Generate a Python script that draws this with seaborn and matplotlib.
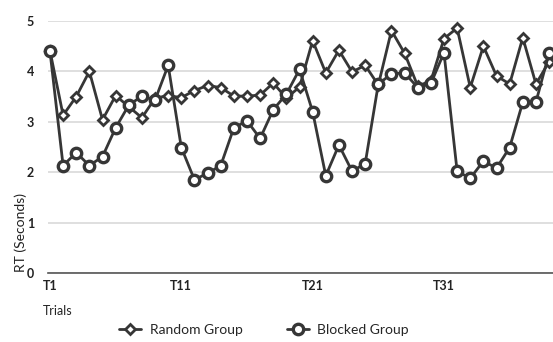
"""
Reaction time per trial, random vs blocked practice groups.
"""

import matplotlib
matplotlib.use("Agg")
import matplotlib.pyplot as plt
import pandas as pd
import seaborn as sns

trials = list(range(1, 40))
random_group = [4.41, 3.13, 3.50, 4.00, 3.04, 3.52, 3.30, 3.08, 3.47, 3.52,
                3.48, 3.62, 3.72, 3.68, 3.51, 3.51, 3.53, 3.77, 3.47, 3.69,
                4.61, 3.97, 4.42, 3.99, 4.12, 3.73, 4.81, 4.36, 3.71, 3.81,
                4.65, 4.86, 3.68, 4.50, 3.91, 3.75, 4.67, 3.75, 4.19]
blocked_group = [4.40, 2.13, 2.39, 2.13, 2.31, 2.88, 3.33, 3.51, 3.43, 4.12,
                 2.49, 1.85, 1.98, 2.13, 2.88, 3.02, 2.67, 3.24, 3.55, 4.04,
                 3.20, 1.93, 2.54, 2.02, 2.17, 3.75, 3.95, 3.97, 3.68, 3.76,
                 4.37, 2.02, 1.88, 2.22, 2.08, 2.49, 3.39, 3.39, 4.36]
tick_trials = [1, 11, 21, 31]
tick_labels = ["T1", "T11", "T21", "T31"]
y_ticks = [0, 1, 2, 3, 4, 5]

df = pd.DataFrame({
    "trial": trials * 2,
    "rt": random_group + blocked_group,
    "group": ["Random Group"] * len(trials) + ["Blocked Group"] * len(trials),
})

sns.set_style("white")
plt.rcParams["font.family"] = ["Lato", "DejaVu Sans"]

fig = plt.figure(figsize=(5.53, 3.42), dpi=100)
ax = fig.add_axes([48 / 553, 69 / 342, 505 / 553, 252 / 342])

dark = "#363636"
sns.lineplot(data=df[df.group == "Random Group"], x="trial", y="rt", ax=ax,
             color=dark, linewidth=2.0, marker="D", markersize=5.5,
             markerfacecolor="white", markeredgecolor=dark, markeredgewidth=2.0,
             clip_on=False, zorder=3, label="Random Group")
sns.lineplot(data=df[df.group == "Blocked Group"], x="trial", y="rt", ax=ax,
             color=dark, linewidth=2.0, marker="o", markersize=7.5,
             markerfacecolor="white", markeredgecolor=dark, markeredgewidth=2.4,
             clip_on=False, zorder=4, label="Blocked Group")

ax.set_xlim(0.85, 39.3)
ax.set_ylim(0, 5)
ax.set_yticks(y_ticks)
ax.set_xticks(tick_trials)
ax.set_xticklabels(tick_labels)
ax.yaxis.grid(True, color="#d9d9d9", linewidth=1.2)
ax.set_axisbelow(True)
for side in ["top", "right", "left"]:
    ax.spines[side].set_visible(False)
ax.spines["bottom"].set_color("#555555")
ax.spines["bottom"].set_linewidth(1.2)
ax.tick_params(axis="both", length=0, labelsize=9, colors="#222222")
ax.tick_params(axis="x", pad=5)
ax.tick_params(axis="y", pad=10)
for lab in ax.get_xticklabels() + ax.get_yticklabels():
    lab.set_fontweight("bold")

ax.set_xlabel("")
ax.set_ylabel("")
fig.text(43 / 553, 1 - 311 / 342, "Trials", fontsize=9, ha="left", va="center",
         color="#222222")
fig.text(21 / 553, 1 - 233 / 342, "RT (Seconds)", fontsize=10, rotation=90,
         ha="center", va="center", color="#222222")

ax.legend_.remove()
handles, labels = ax.get_legend_handles_labels()
fig.legend(handles, labels, loc="center", bbox_to_anchor=(264 / 553, 1 - 330 / 342),
           ncol=2, frameon=False, fontsize=10, handlelength=1.6,
           columnspacing=3.2, handletextpad=0.6)

fig.savefig("out.png", dpi=100)
